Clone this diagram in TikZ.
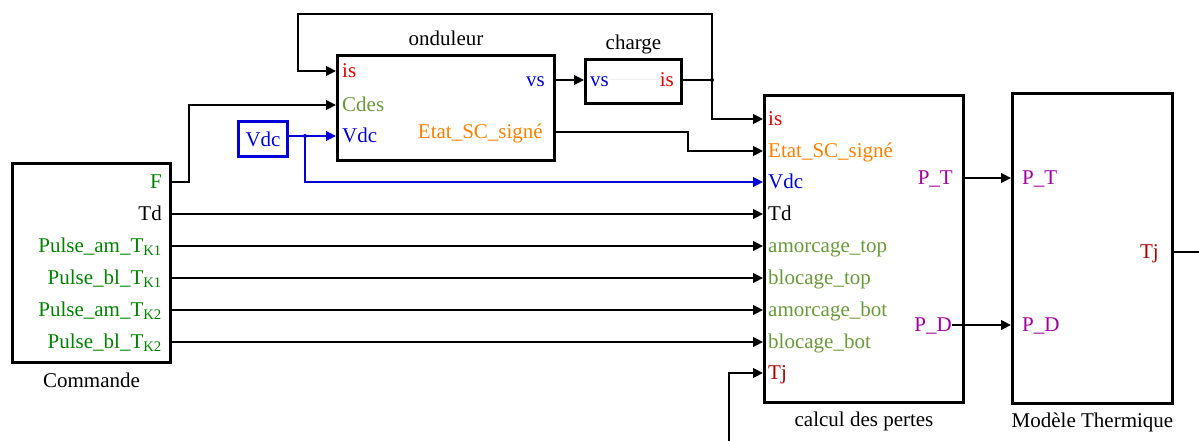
\documentclass[tikz,border=0pt]{standalone}
\usepackage{fontspec}
\setmainfont{Liberation Serif}
\usepackage{xcolor}
\usetikzlibrary{arrows.meta,positioning}

\definecolor{cgreen}{RGB}{0,128,0}
\definecolor{colive}{RGB}{106,153,60}
\definecolor{cred}{RGB}{230,0,0}
\definecolor{cblue}{RGB}{0,0,215}
\definecolor{corange}{RGB}{255,128,0}
\definecolor{cdarkred}{RGB}{170,0,0}
\definecolor{cpurple}{RGB}{160,0,160}

\begin{document}
\begin{tikzpicture}[x=1pt, y=-1pt,
  blk/.style={rectangle, draw, line width=3pt, anchor=north west, inner sep=0pt},
  lbl/.style={font=\rmfamily\fontsize{21}{24}\selectfont, inner sep=0pt, text height=15pt, text depth=2pt},
  pin/.style={lbl, anchor=west},
  pout/.style={lbl, anchor=east},
  wire/.style={line width=2.6pt},
  arr/.style={-{Triangle[length=10pt,width=9.5pt]}, line width=2.6pt}
]
\useasboundingbox (0,0) rectangle (1199,441);

% blocks
\node[blk, minimum width=158pt, minimum height=199pt] (cmd) at (11,162) {};
\node[blk, minimum width=217pt, minimum height=105pt] (ond) at (336,54) {};
\node[blk, minimum width=96pt, minimum height=44pt] (chg) at (584,58) {};
\node[blk, draw=cblue, minimum width=49pt, minimum height=35pt, font=\rmfamily\fontsize{21}{24}\selectfont, text=cblue] (vdc) at (237,120) {Vdc};
\node[blk, minimum width=199pt, minimum height=307pt] (cal) at (763,94) {};
\node[blk, minimum width=160pt, minimum height=310pt] (the) at (1011,92) {};

% titles
\node[lbl, below=8pt of cmd] (cmd-t) {Commande};
\node[lbl, above=6pt of ond] (ond-t) {onduleur};
\node[lbl, above=6pt of chg] (chg-t) {charge};
\node[lbl, below=7pt of cal] (cal-t) {calcul des pertes};
\node[lbl, below=7pt of the] (the-t) {Modèle Thermique};

% Commande ports
\node[pout, text=cgreen] (cmd-f) at (162,182) {F};
\node[pout] (cmd-td) at (162,214) {Td};
\node[pout, text=cgreen] (cmd-k1a) at (162,246) {Pulse\_am\_T\textsubscript{K1}};
\node[pout, text=cgreen] (cmd-k1b) at (162,278) {Pulse\_bl\_T\textsubscript{K1}};
\node[pout, text=cgreen] (cmd-k2a) at (162,310) {Pulse\_am\_T\textsubscript{K2}};
\node[pout, text=cgreen] (cmd-k2b) at (162,342) {Pulse\_bl\_T\textsubscript{K2}};

% onduleur ports
\node[pin, text=cred] (ond-is) at (342,71) {is};
\node[pin, text=colive] (ond-cdes) at (342,105) {Cdes};
\node[pin, text=cblue] (ond-vdc) at (342,136) {Vdc};
\node[pout, text=cblue] (ond-vs) at (545,80) {vs};
\node[pout, text=corange] (ond-etat) at (543,132) {Etat\_SC\_signé};

% charge ports
\node[pin, text=cblue] (chg-vs) at (590,80) {vs};
\node[pout, text=cred] (chg-is) at (674,80) {is};

% calcul des pertes ports
\node[pin, text=cred] (cal-is) at (768,119) {is};
\node[pin, text=corange] (cal-etat) at (768,151) {Etat\_SC\_signé};
\node[pin, text=cblue] (cal-vdc) at (768,182) {Vdc};
\node[pin] (cal-td) at (768,214) {Td};
\node[pin, text=colive] (cal-amt) at (768,246) {amorcage\_top};
\node[pin, text=colive] (cal-blt) at (768,278) {blocage\_top};
\node[pin, text=colive] (cal-amb) at (768,310) {amorcage\_bot};
\node[pin, text=colive] (cal-blb) at (768,342) {blocage\_bot};
\node[pin, text=cdarkred] (cal-tj) at (768,373) {Tj};
\node[pout, text=cpurple] (cal-pt) at (953,178) {P\_T};
\node[pout, text=cpurple] (cal-pd) at (952,325) {P\_D};

% Modele Thermique ports
\node[pin, text=cpurple] (the-pt) at (1022,178) {P\_T};
\node[pin, text=cpurple] (the-pd) at (1022,325) {P\_D};
\node[pout, text=cdarkred] (the-tj) at (1159,252) {Tj};

\coordinate (vbr) at (305,136);
\coordinate (isj) at (712,80);
\coordinate (tjin) at (729,441);
\coordinate (tjout) at (1199,252);

% connections
\draw[arr] (cmd.east |- cmd-f) -- ++(17,0) |- (ond.west |- ond-cdes);
\foreach \src/\dst in {td/td, k1a/amt, k1b/blt, k2a/amb, k2b/blb}
  \draw[arr] (cmd.east |- cmd-\src) -- (cal.west |- cal-\dst);
\draw[arr, cblue] (vdc.east |- ond-vdc) -- (ond.west |- ond-vdc);
\fill[cblue] (vbr) circle (2pt);
\draw[arr, cblue] (vbr) |- (cal.west |- cal-vdc);
\draw[arr] (ond.east |- ond-vs) -- (chg.west |- chg-vs);
\draw[gray!12, line width=1pt] (chg-vs) -- (chg-is);
\draw[wire] (chg.east |- chg-is) -- (isj);
\fill (isj) circle (2pt);
\draw[arr] (isj) |- (298,14) |- (ond.west |- ond-is);
\draw[arr] (isj) |- (cal.west |- cal-is);
\draw[arr] (ond.east |- ond-etat) -- ++(132,0) |- (cal.west |- cal-etat);
\draw[arr] (tjin) |- (cal.west |- cal-tj);
\draw[arr] (cal.east |- cal-pt) -- (the.west |- the-pt);
\draw[arr] (cal-pd.east) -- (the.west |- the-pd);
\draw[wire] (the.east |- the-tj) -- (tjout);
\end{tikzpicture}
\end{document}
